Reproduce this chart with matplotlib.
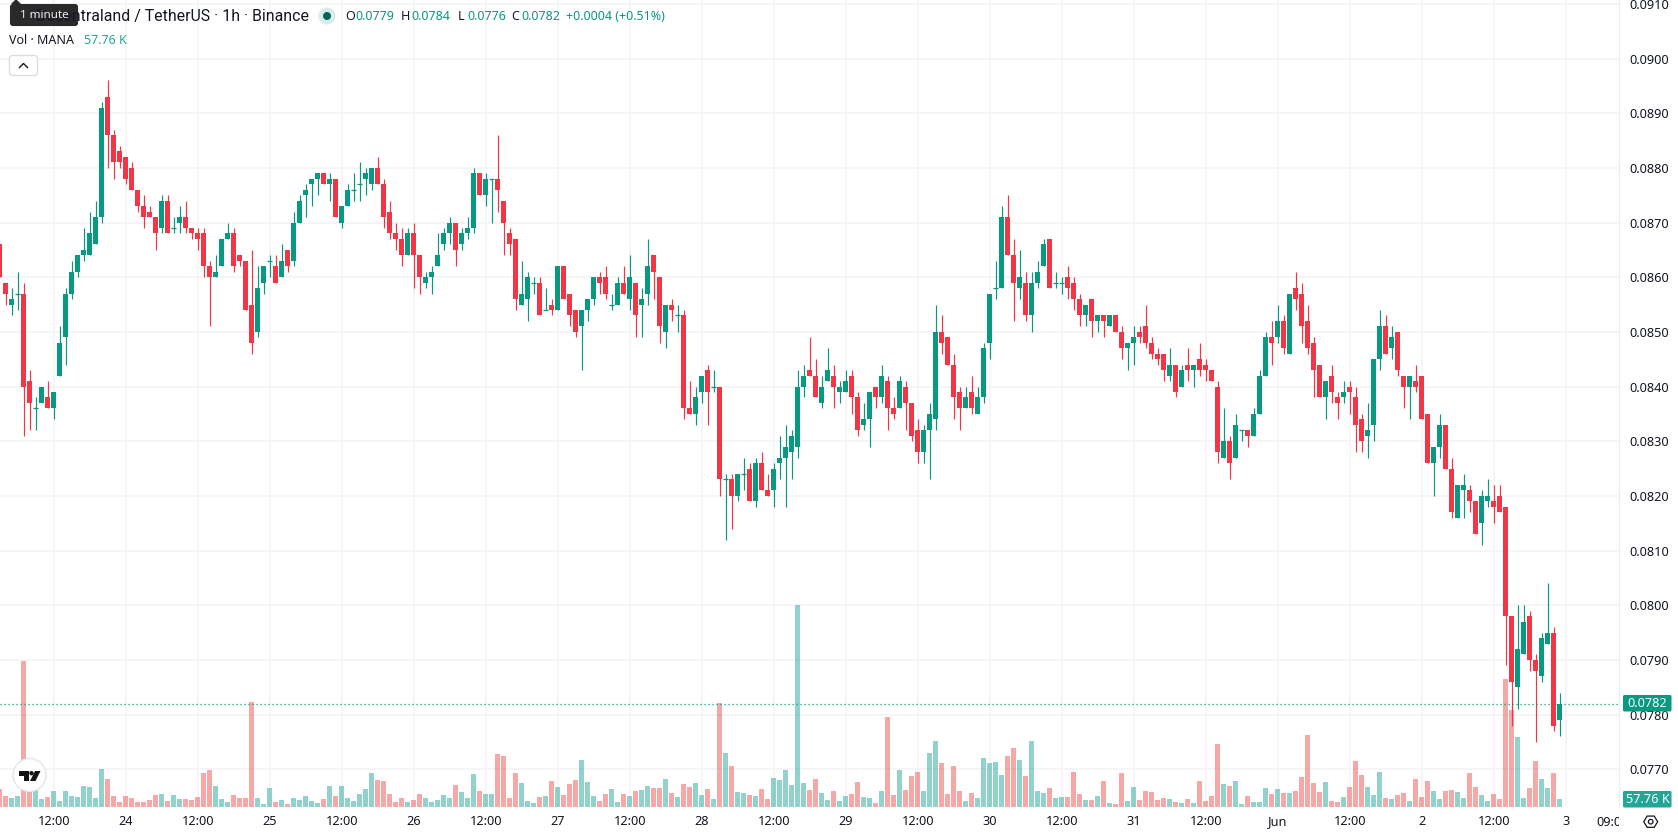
import numpy as np
import matplotlib
matplotlib.use("Agg")
import matplotlib.pyplot as plt
from matplotlib.patches import Circle, FancyBboxPatch, Polygon, Rectangle

plt.rcParams['font.family'] = ['Noto Sans', 'DejaVu Sans']

# hourly candles, prices in units of 0.0001 USDT
open_ = [866,859,855,857,857,841,836,837,838,836,
         842,849,857,861,864,864,866,871,893,886,
         883,882,880,876,873,872,871,869,874,869,
         870,871,869,868,868,862,860,862,867,868,
         864,863,855,850,859,863,862,860,865,863,
         870,875,877,878,879,877,878,870,873,876,
         877,878,877,880,877,872,868,867,864,868,
         864,859,860,862,866,868,870,866,868,869,
         879,875,878,878,874,868,867,855,856,859,
         859,854,855,854,862,857,854,851,854,856,
         860,860,855,855,859,856,859,855,857,864,
         860,850,855,853,853,836,835,839,843,840,
         840,823,823,820,824,825,819,826,821,821,
         826,827,828,829,840,843,842,837,841,842,
         839,839,842,838,833,834,840,838,841,836,
         836,840,837,832,828,832,834,850,849,844,
         839,836,839,835,838,848,858,858,871,864,
         858,859,853,859,862,867,859,859,860,859,
         856,853,856,852,853,851,853,850,847,848,
         850,851,848,846,846,842,844,840,844,843,
         845,844,843,840,827,830,827,832,832,831,
         835,842,849,849,852,846,858,857,852,848,
         844,838,842,838,838,840,838,834,831,833,
         845,851,847,850,842,840,841,842,835,826,
         829,833,825,816,821,821,819,815,819,819,
         820,818,798,785,791,798,790,787,793,795,779]
high = [866,859,858,861,859,843,838,840,841,839,
        851,858,863,864,869,872,874,892,896,887,
        884,882,881,876,875,873,871,875,875,871,
        873,874,869,869,869,863,864,867,870,869,
        864,863,865,862,862,864,864,866,865,872,
        875,877,878,879,879,879,878,873,877,879,
        881,880,880,882,878,874,870,869,869,870,
        864,861,862,868,869,871,870,869,871,880,
        879,879,878,886,874,869,867,863,861,860,
        860,858,856,862,862,857,854,854,856,860,
        861,862,857,860,862,864,859,858,867,864,
        860,855,856,855,854,841,840,842,844,843,
        840,824,824,824,827,826,827,828,824,826,
        831,833,832,843,844,849,845,842,847,844,
        841,843,843,839,837,839,840,844,842,838,
        842,841,837,834,833,837,855,853,849,846,
        840,840,842,840,848,857,863,873,875,867,
        865,861,861,863,867,867,861,860,862,860,
        857,855,856,853,853,853,853,851,848,851,
        851,855,849,847,846,847,844,844,847,844,
        848,845,843,841,836,831,835,832,832,836,
        843,850,852,855,853,857,861,859,855,849,
        844,841,844,839,841,841,840,835,837,845,
        854,853,851,850,842,842,844,842,835,829,
        835,833,827,822,824,822,819,821,823,822,
        822,818,798,800,800,799,791,795,804,796,784]
low = [860,855,853,854,831,832,832,837,836,834,
       842,844,856,860,863,864,866,870,880,878,
       880,877,876,872,869,871,865,868,868,868,
       868,868,867,865,860,851,860,862,867,861,
       862,854,846,849,857,860,859,860,861,862,
       870,871,873,875,877,874,871,869,873,874,
       874,875,876,877,869,867,865,862,864,858,
       857,858,857,862,865,866,862,865,867,868,
       875,873,870,872,864,864,854,855,852,857,
       853,854,853,854,856,851,849,843,852,855,
       857,856,854,855,857,854,849,849,855,856,
       848,847,852,850,834,835,833,837,833,839,
       820,812,814,819,821,819,818,821,820,818,
       823,818,823,827,838,842,838,836,841,836,
       837,839,835,831,832,829,836,837,832,834,
       836,832,830,826,826,823,832,846,844,834,
       832,836,835,835,837,845,856,858,864,852,
       856,852,850,858,862,858,858,857,856,854,
       851,851,849,850,849,851,850,845,843,844,
       848,847,845,844,841,841,838,840,841,840,
       842,841,841,826,827,823,827,830,829,831,
       835,842,844,848,846,846,854,848,846,838,
       838,834,837,834,837,835,828,828,827,830,
       843,846,845,842,836,834,839,834,826,820,
       827,825,816,816,816,817,813,811,818,815,
       817,789,778,781,791,788,775,786,793,777,776]
close = [860,857,856,857,840,837,836,840,836,839,
         848,857,861,864,865,868,871,891,886,881,
         881,878,876,873,871,871,868,874,868,869,
         871,869,868,867,862,860,861,867,868,862,
         863,854,848,858,862,863,859,863,862,870,
         874,876,878,879,877,878,871,873,876,876,
         877,879,880,877,871,868,867,864,868,864,
         860,860,861,864,868,870,865,868,869,879,
         875,878,878,876,870,866,856,857,860,859,
         853,854,854,862,856,853,850,854,856,860,
         859,857,855,859,857,860,853,856,862,861,
         851,855,854,853,836,835,838,842,839,840,
         823,823,820,824,824,819,826,821,820,825,
         827,829,831,840,842,842,838,840,843,840,
         840,841,838,832,834,839,838,842,836,835,
         841,837,831,828,832,835,850,848,844,838,
         836,838,836,838,847,857,858,871,864,859,
         860,853,859,861,866,858,859,859,858,856,
         853,855,852,853,852,853,850,847,848,849,
         849,848,846,845,843,844,839,843,843,844,
         843,843,841,828,830,826,833,832,831,835,
         842,849,848,852,847,857,856,851,847,843,
         838,841,839,837,839,839,833,830,832,845,
         851,846,849,843,840,842,840,834,826,829,
         833,825,817,822,822,819,813,820,820,818,
         817,798,786,792,797,790,788,794,795,778,782]
# volume in thousands of MANA
volume = [135,82,68,82,1095,300,150,60,75,120,
          45,120,82,75,158,150,68,285,210,82,
          38,82,68,38,38,52,90,98,45,90,
          60,60,52,75,255,278,158,60,38,90,
          68,68,788,68,22,142,38,52,22,68,
          52,82,45,30,60,158,82,158,68,45,
          98,135,255,202,195,98,38,68,38,52,
          98,68,38,52,90,68,165,112,68,248,
          120,98,98,398,382,68,255,180,45,30,
          75,82,195,150,90,172,202,352,188,82,
          45,98,135,38,98,82,120,128,158,142,
          142,210,105,75,172,150,180,90,135,60,
          780,405,308,112,105,90,82,135,60,218,
          202,278,165,1515,180,128,210,105,52,120,
          45,82,98,188,75,68,30,120,675,90,
          278,128,232,262,120,405,495,330,98,308,
          120,45,105,68,368,330,338,240,382,442,
          352,232,495,120,105,142,68,75,75,262,
          98,52,52,82,195,30,22,255,45,150,
          52,120,112,52,68,60,38,30,60,30,
          195,45,82,472,172,158,195,22,82,38,
          38,142,98,135,105,105,120,225,540,180,
          112,188,45,38,75,150,345,240,150,90,
          262,68,60,90,105,45,210,75,195,120,
          60,120,128,112,68,255,150,90,45,98,
          60,960,728,525,68,142,345,210,142,255,57.76]

price_ticks = [0.0770,0.0780,0.0790,0.0800,0.0810,0.0820,0.0830,0.0840,
               0.0850,0.0860,0.0870,0.0880,0.0890,0.0900,0.0910]
time_labels = ['12:00','24','12:00','25','12:00','26','12:00','27','12:00','28','12:00',
               '29','12:00','30','12:00','31','12:00','Jun','12:00','2','12:00','3']
change_text = '+0.0004 (+0.51%)'

UP = '#089981'
DOWN = '#F23645'
VOL_UP = '#26A69A'
VOL_DOWN = '#EF5350'
TEXT = '#131722'
GRID = '#F2F3F5'

W, H = 1678, 835
o = np.array(open_) / 10000
hi = np.array(high) / 10000
lo = np.array(low) / 10000
c = np.array(close) / 10000
vol = np.array(volume)
x = np.arange(len(o))
colors = np.where(c < o, DOWN, UP)
vol_colors = np.where(c < o, VOL_DOWN, VOL_UP)
time_ticks = 9 + 12 * np.arange(len(time_labels))

fig = plt.figure(figsize=(W / 100, H / 100), dpi=100, facecolor='white')
rect = [0, 28 / H, 1619 / W, 807 / H]

# volume sits below the candles, both share the time scale
vol_ax = fig.add_axes(rect, zorder=1)
price_ax = fig.add_axes(rect, zorder=2, sharex=vol_ax)
price_ax.patch.set_visible(False)

vol_ax.set_xlim(0.07, 269.9)
vol_ax.set_ylim(0, 6052)
price_ax.set_ylim(0.07631, 0.09107)

for t in time_ticks:
    vol_ax.axvline(t, color=GRID, lw=1.1, zorder=0)
vol_ax.hlines(price_ticks, 0, 1, transform=price_ax.get_yaxis_transform(),
              color=GRID, lw=1.1, zorder=0)
vol_ax.bar(x, vol, width=5 / 6, color=vol_colors, alpha=0.5, linewidth=0, zorder=2)

# candles
price_ax.vlines(x, lo, hi, colors=colors, lw=0.85, zorder=2)
body = np.abs(c - o)
price_ax.bar(x, body, bottom=np.minimum(o, c), width=5 / 6, color=colors, linewidth=0, zorder=3)
flat = body == 0
price_ax.hlines(c[flat], x[flat] - 2.5 / 6, x[flat] + 2.5 / 6, colors=colors[flat], lw=0.9, zorder=3)
price_ax.axhline(c[-1], color=UP, lw=0.9, ls=(0, (1, 2.2)), zorder=1)

vol_ax.set_yticks([])
vol_ax.set_xticks(time_ticks)
vol_ax.set_xticklabels(time_labels)
vol_ax.tick_params(axis='x', length=0, pad=5.5, labelsize=9.2, labelcolor=TEXT)
for lab in vol_ax.get_xticklabels():
    if lab.get_text() == 'Jun':
        lab.set_fontweight('bold')
price_ax.tick_params(axis='x', labelbottom=False, length=0)

price_ax.yaxis.tick_right()
price_ax.set_yticks(price_ticks)
price_ax.set_yticklabels(['%.4f' % p for p in price_ticks])
price_ax.tick_params(axis='y', length=0, pad=7.5, labelsize=9.2, labelcolor=TEXT)

for a in (vol_ax, price_ax):
    for name, sp in a.spines.items():
        sp.set_visible(name == 'right')
        sp.set_color('#ECEDF0')
        sp.set_linewidth(0.8)

# header, price tags and buttons are placed in pixels on a top layer
ui = fig.add_axes([0, 0, 1, 1], zorder=3)
ui.set_xlim(0, W)
ui.set_ylim(H, 0)
ui.axis('off')

ui.text(309, 16, 'Decentraland / TetherUS · 1h · Binance', ha='right', va='center',
        fontsize=11.4, color=TEXT, family=['Roboto', 'DejaVu Sans'])
ui.add_patch(Circle((327, 16), 8.5, color='#D6EDE9', lw=0))
ui.add_patch(Circle((327, 16), 4, color='#056656', lw=0))

ohlc = [(345, 'O', o[-1]), (401, 'H', hi[-1]), (457.5, 'L', lo[-1]), (511, 'C', c[-1])]
for px, letter, val in ohlc:
    ui.text(px, 16, letter, ha='left', va='center', fontsize=9, color=TEXT)
    ui.text(px + 10, 16, '%.4f' % val, ha='left', va='center', fontsize=9, color=UP)
ui.text(566, 16, change_text, ha='left', va='center', fontsize=9, color=UP)

ui.text(9, 41, 'Vol · MANA', ha='left', va='center', fontsize=9, color=TEXT)
ui.text(84, 41, '%.2f K' % vol[-1], ha='left', va='center', fontsize=9, color=VOL_UP)

# tooltip over the start of the title
ui.add_patch(Polygon([(11, 4), (16, -1), (21, 4)], color='#2A2A2A', lw=0))
ui.add_patch(FancyBboxPatch((11, 5), 66, 20, boxstyle='round,pad=0,rounding_size=2',
                            fc='#2A2A2A', ec='#2A2A2A', lw=1.5))
ui.text(44, 15.5, '1 minute', ha='center', va='center', fontsize=8.4, color='#F0F0F0')

# collapse button
ui.add_patch(FancyBboxPatch((9.5, 55.5), 28, 20, boxstyle='round,pad=0,rounding_size=3',
                            fc='white', ec='#DADCE0', lw=1))
ui.plot([19.5, 23.5, 27.5], [67.5, 63.5, 67.5], color=TEXT, lw=1)

# logo badge
ui.add_patch(Circle((29.6, 775), 16.5, fc='white', ec='#E4E5E8', lw=1, zorder=4))
ui.add_patch(Polygon([(18.6, 771), (29, 771), (29, 781), (24, 781), (24, 775.5), (18.6, 775.5)],
                     color='#131313', lw=0, zorder=5))
ui.add_patch(Circle((31.5, 773.2), 2.2, color='#131313', lw=0, zorder=5))
ui.add_patch(Polygon([(35, 771), (40.5, 771), (35.5, 781), (30, 781)], color='#131313', lw=0, zorder=5))

# last price and last volume tags
ui.add_patch(FancyBboxPatch((1623, 695), 48.5, 16.5, boxstyle='round,pad=0,rounding_size=1.5',
                            fc=UP, ec=UP, lw=0, zorder=4))
ui.text(1647.5, 703.6, '%.4f' % c[-1], ha='center', va='center', fontsize=9.2, color='white', zorder=5)
ui.add_patch(FancyBboxPatch((1623, 791), 48.5, 16.5, boxstyle='round,pad=0,rounding_size=1.5',
                            fc='#22A697', ec='#22A697', lw=0, zorder=4))
ui.text(1647.5, 799.6, '%.2f K' % vol[-1], ha='center', va='center', fontsize=9.2, color='white', zorder=5)

# next time label runs under the price scale
next_label = ui.text(1613, 822, '09:00', ha='center', va='center', fontsize=9.2, color=TEXT)
next_label.set_clip_on(True)
next_label.set_clip_path(Rectangle((1500, 808), 119, 27, transform=ui.transData))

# settings icon
ang = np.deg2rad(np.arange(0, 360, 60))
ui.add_patch(Polygon(np.c_[1650.7 + 7 * np.cos(ang), 821.7 + 6.5 * np.sin(ang)], closed=True,
                     fc='none', ec=TEXT, lw=0.9))
ui.add_patch(Circle((1650.7, 821.7), 2.3, fc='none', ec=TEXT, lw=0.9))

fig.savefig('out.png', dpi=100, facecolor='white')
